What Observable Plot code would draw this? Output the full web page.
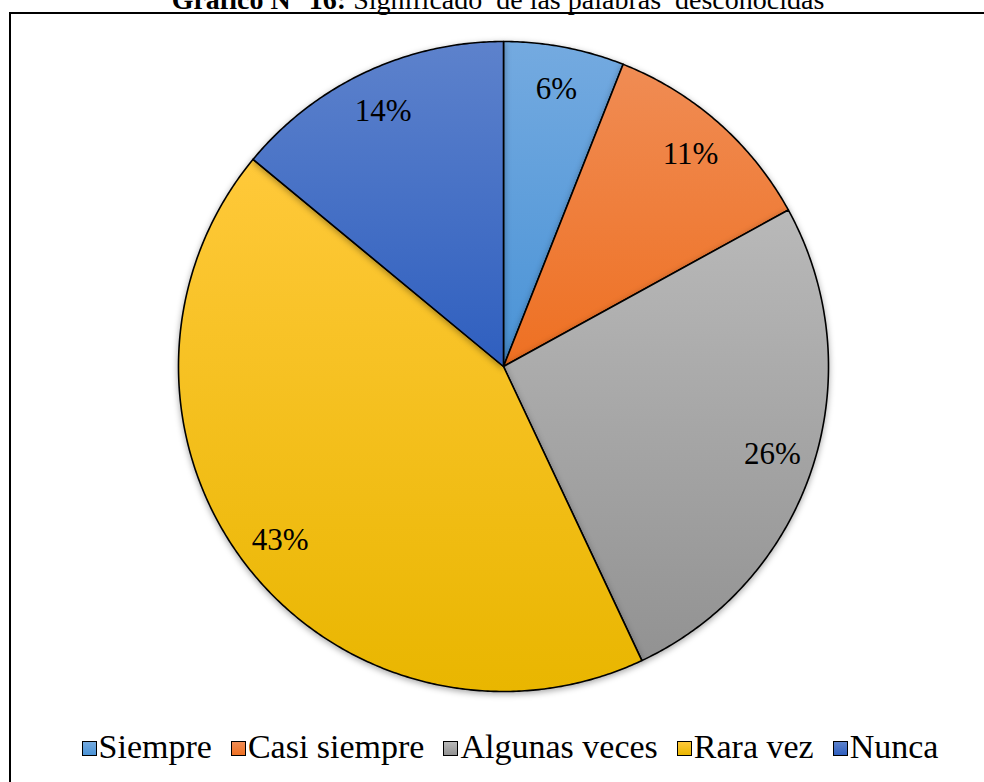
<!DOCTYPE html>
<html>
<head>
<meta charset="utf-8">
<script src="https://cdn.jsdelivr.net/npm/d3@7"></script>
<script src="https://cdn.jsdelivr.net/npm/@observablehq/plot@0.6"></script>
<style>
  html, body { margin: 0; padding: 0; background: #fff; overflow: hidden; }
  body { width: 984px; height: 782px; position: relative; font-family: "Liberation Serif", "Times New Roman", serif; }
  #title { position: absolute; left: 0; width: 996px; top: -14px; text-align: center; font-size: 28px; line-height: 28px; color: #000; white-space: pre; }
  #frame { position: absolute; left: 9px; top: 12px; width: 1000px; height: 800px; border: 2px solid #000; box-sizing: border-box; }
  #chart { position: absolute; left: 0; top: 0; }
  #legend { position: absolute; left: 0; width: 1020px; top: 729px; display: flex; justify-content: center; gap: 19px; font-size: 34px; line-height: 36px; color: #000; }
  .item { display: flex; align-items: center; }
  .sw { width: 13px; height: 13px; border: 1.5px solid #000; margin-right: 2px; margin-top: 3px; }
</style>
</head>
<body>
<div id="title"><b>Gráfico N° 16:</b> Significado  de las palabras  desconocidas</div>
<div id="frame"></div>
<div id="chart"></div>
<div id="legend"></div>
<script>
const categories = ["Siempre", "Casi siempre", "Algunas veces", "Rara vez", "Nunca"];
const values = [6, 11, 26, 43, 14];
const labels = ["6%", "11%", "26%", "43%", "14%"];

const colorTop = ["#74aae0", "#f08c54", "#b9b9b9", "#ffc93a", "#5d82cc"];
const colorBottom = ["#4a93d6", "#ee7022", "#929292", "#e9b600", "#2f5fbf"];

const total = d3.sum(values);
const slices = [];
let acc = 0;
categories.forEach((c, i) => {
  const a0 = acc / total * 2 * Math.PI;
  acc += values[i];
  const a1 = acc / total * 2 * Math.PI;
  const pts = [{x: 0, y: 0}];
  const n = Math.max(2, Math.ceil((a1 - a0) / (Math.PI / 360)));
  for (let k = 0; k <= n; k++) {
    const a = a0 + (a1 - a0) * k / n;
    pts.push({x: Math.sin(a), y: Math.cos(a)});
  }
  pts.push({x: 0, y: 0});
  const mid = (a0 + a1) / 2;
  slices.push({cat: c, i, pts, label: labels[i], lx: 0.87 * Math.sin(mid), ly: 0.87 * Math.cos(mid)});
});

const R = 325, cx = 503, cy = 366;
const marks = slices.map(s => Plot.line(s.pts, {
  x: "x", y: "y", fill: `url(#grad${s.i})`, stroke: "#000", strokeWidth: 1.6, curve: "linear", strokeLinejoin: "round"
}));
marks.push(Plot.text(slices, {
  x: "lx", y: "ly", text: "label", fontSize: 31, fill: "#000", fontFamily: "Liberation Serif", textAnchor: "middle", lineAnchor: "middle"
}));

const svg = Plot.plot({
  width: 984,
  height: 720,
  margin: 0,
  x: {domain: [-1, 1], range: [cx - R, cx + R], axis: null},
  y: {domain: [-1, 1], range: [cy + R, cy - R], axis: null},
  style: {background: "transparent", overflow: "visible", fontFamily: "Liberation Serif"},
  marks
});

const defs = d3.select(svg).insert("defs", ":first-child");
categories.forEach((c, i) => {
  const g = defs.append("linearGradient").attr("id", `grad${i}`).attr("x1", 0).attr("y1", 0).attr("x2", 0).attr("y2", 1);
  g.append("stop").attr("offset", "0%").attr("stop-color", colorTop[i]);
  g.append("stop").attr("offset", "100%").attr("stop-color", colorBottom[i]);
});
d3.select(svg).selectAll('g[aria-label="line"]').style("filter", "drop-shadow(0px 2px 3px rgba(0,0,0,0.35))");

document.getElementById("chart").appendChild(svg);

const legend = d3.select("#legend");
categories.forEach((c, i) => {
  const it = legend.append("div").attr("class", "item");
  it.append("div").attr("class", "sw").style("background", `linear-gradient(${colorTop[i]}, ${colorBottom[i]})`);
  it.append("span").text(c);
});
</script>
</body>
</html>
